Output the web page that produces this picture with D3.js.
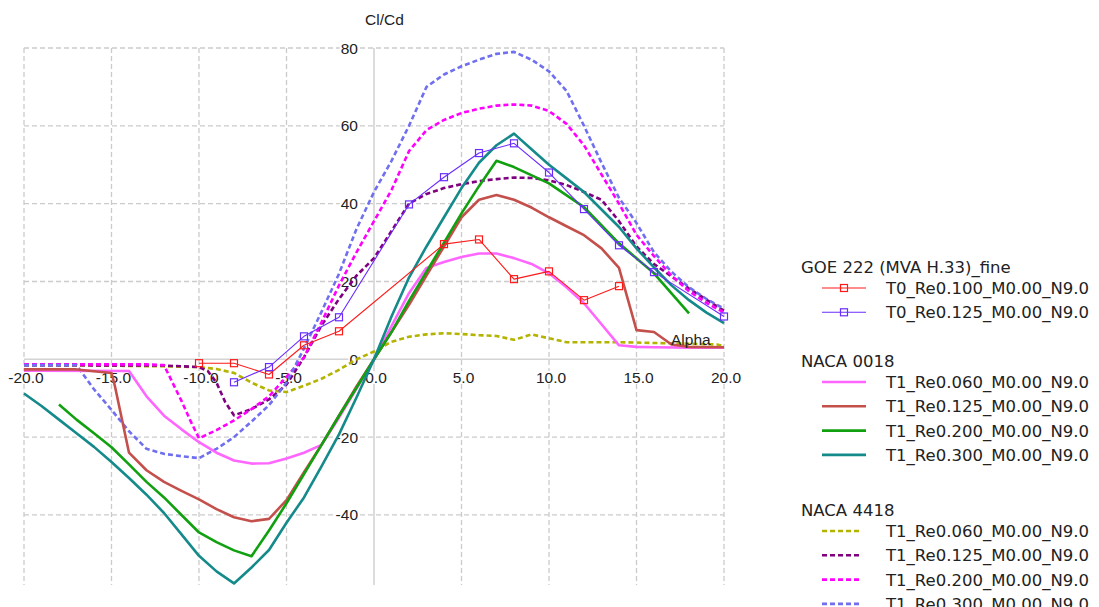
<!DOCTYPE html>
<html><head><meta charset="utf-8">
<script src="https://cdn.jsdelivr.net/npm/d3@7"></script>
<style>body{margin:0;background:#fff}svg{display:block}</style>
</head><body><svg id="c" width="1099" height="607"></svg>
<script>
// ---------- DATA ----------
const xTicks = [-20, -15, -10, -5, 0, 5, 10, 15, 20];
const xTickLabels = ["-20.0", "-15.0", "-10.0", "-5.0", "0.0", "5.0", "10.0", "15.0", "20.0"];
const yTicks = [80, 60, 40, 20, 0, -20, -40];
const yTickLabels = ["80", "60", "40", "20", "0", "-20", "-40"];

const groupNames = ["GOE 222 (MVA H.33)_fine", "NACA 0018", "NACA 4418"];
const goeLabels = ["T0_Re0.100_M0.00_N9.0", "T0_Re0.125_M0.00_N9.0"];
const naca0018Labels = ["T1_Re0.060_M0.00_N9.0", "T1_Re0.125_M0.00_N9.0", "T1_Re0.200_M0.00_N9.0", "T1_Re0.300_M0.00_N9.0"];
const naca4418Labels = ["T1_Re0.060_M0.00_N9.0", "T1_Re0.125_M0.00_N9.0", "T1_Re0.200_M0.00_N9.0", "T1_Re0.300_M0.00_N9.0"];

// GOE 222
const goeRe100Alpha = [-10, -8, -6, -4, -2, 4, 6, 8, 10, 12, 14];
const goeRe100ClCd  = [-1, -1, -3.9, 3.6, 7.2, 29.6, 30.8, 20.6, 22.6, 15.2, 18.8];
const goeRe125Alpha = [-8, -6, -4, -2, 2, 4, 6, 8, 10, 12, 14, 16, 20];
const goeRe125ClCd  = [-5.9, -2, 5.9, 10.8, 39.8, 46.8, 53, 55.5, 48, 38.6, 29.3, 22.4, 11];

// NACA 0018
const n0018Re060Alpha = [-20, -14, -13, -12, -11, -10, -9, -8, -7, -6, -5, -4, -3, -2, -1, 0, 1, 2, 3, 4, 5, 6, 7, 8, 9, 10, 11, 12, 13, 14, 15, 16, 18, 20];
const n0018Re060ClCd  = [-2.9, -3, -9.5, -14.5, -18, -21.3, -24, -26, -26.8, -26.7, -25.5, -24, -22, -15, -7.5, 0, 8.5, 17, 23.5, 25, 26.3, 27.2, 27.2, 26, 24.5, 22.1, 18.5, 14.4, 9, 3.6, 3.2, 3.1, 3, 3];
const n0018Re125Alpha = [-20, -17, -15, -14.8, -14, -13, -12, -11, -10, -9, -8, -7, -6, -5, -4, -3, -2, -1, 0, 1, 2, 3, 4, 5, 6, 7, 8, 9, 10, 11, 12, 13, 14, 15, 16, 17, 18, 20];
const n0018Re125ClCd  = [-2.6, -2.6, -3.5, -7, -24, -28.5, -31.5, -33.8, -36, -38.5, -40.6, -41.6, -41, -36.2, -29, -22, -14.5, -7, 0, 7, 14, 21.5, 29, 36.5, 41, 42.2, 41, 39, 36.5, 34.2, 31.9, 28.5, 23.5, 7.5, 7, 3.8, 3.2, 3.1];
const n0018Re200Alpha = [-18, -17, -16, -15, -14, -13, -12, -11, -10, -9, -8, -7, -6, -5, -4, -3, -2, -1, 0, 1, 2, 3, 4, 5, 6, 7, 8, 10, 12, 14, 16, 18];
const n0018Re200ClCd  = [-11.6, -15.5, -19, -22.6, -27, -31.5, -35.5, -40, -44.5, -47, -49.1, -50.6, -44, -37, -29.5, -22, -14.5, -7.3, 0, 7, 15, 22.5, 30, 37.5, 44.5, 51, 49.4, 45.2, 39.1, 29.8, 22.1, 11.8];
const n0018Re300Alpha = [-20, -19, -18, -17, -16, -15, -14, -13, -12, -11, -10, -9, -8, -7, -6, -5, -4, -3, -2, -1, 0, 1, 2, 3, 4, 5, 6, 7, 8, 9, 10, 11, 12, 13, 14, 15, 16, 17, 18, 19, 20];
const n0018Re300ClCd  = [-8.8, -12, -15.5, -19, -22.5, -26.4, -30.5, -34.8, -39.5, -45, -50.5, -54.5, -57.6, -53.5, -49, -42, -35.5, -27.5, -19.3, -9.8, 0, 11, 21, 29, 36.5, 44, 50.5, 55, 58, 54, 50, 46.5, 43, 38.5, 34, 28.5, 23.6, 19, 15.2, 12, 9.3];

// NACA 4418
const n4418Re060Alpha = [-20, -16, -12, -10, -9, -8, -7, -6, -5, -4, -3, -2, -1, 0, 1, 2, 3, 4, 5, 6, 7, 8, 9, 10, 11, 12, 14, 16, 18, 19.6, 20];
const n4418Re060ClCd  = [-1.5, -1.6, -1.8, -2, -2.5, -3.5, -6, -8, -8.4, -6.8, -5, -2.7, 0, 2, 4.5, 5.8, 6.4, 6.7, 6.5, 6.2, 6, 5, 6.4, 5.4, 4.4, 4.4, 4.4, 4.2, 4, 3.8, 3.4];
const n4418Re125Alpha = [-20, -12, -10, -9.5, -9, -8.5, -8, -7, -6, -5, -4, -3, -2, -1, 0, 1, 2, 3, 4, 5, 6, 7, 8, 9, 10, 11, 12, 13, 14, 15, 16, 17, 18, 19, 20];
const n4418Re125ClCd  = [-1.5, -1.6, -2, -3, -6, -11, -14.4, -12.8, -10.3, -6.5, 0.5, 8.7, 15.5, 21.5, 26, 33, 40, 42.5, 44, 45, 45.8, 46.3, 46.7, 46.6, 46, 44.8, 43, 41, 35.5, 29, 24.5, 21.3, 18.2, 15.3, 12.5];
const n4418Re200Alpha = [-20, -13, -12, -11, -10.5, -10, -9, -8, -7, -6, -5, -4, -3, -2, -1, 0, 1, 2, 3, 4, 5, 6, 7, 8, 9, 10, 11, 12, 13, 14, 15, 16, 17, 18, 19, 20];
const n4418Re200ClCd  = [-1.3, -1.3, -1.5, -10.7, -15.7, -20.3, -18.2, -15.7, -12.8, -9.5, -4.5, 0.5, 9.5, 19, 27.5, 35.5, 43.5, 53.5, 58.9, 61.5, 63.3, 64.4, 65.2, 65.5, 65.2, 63.8, 60.5, 55, 47.5, 40, 32, 26.5, 21.5, 17.5, 14.5, 12];
const n4418Re300Alpha = [-20, -17, -16, -15, -14, -13, -12, -11, -10, -9, -8, -7, -6, -5, -4, -3, -2, -1, 0, 1, 2, 3, 4, 5, 6, 7, 8, 9, 10, 11, 12, 13, 14, 15, 16, 17, 18, 19, 20];
const n4418Re300ClCd  = [-1.5, -1.5, -7.7, -13, -18.5, -23, -24.3, -24.9, -25.4, -23, -20, -16, -11.8, -6, 2.8, 12.2, 22, 33.5, 43, 51, 60, 70, 73.2, 75.3, 77, 78.5, 79, 77, 74, 69, 60, 50.5, 41.5, 35, 27.5, 22.5, 18.5, 15.5, 13];

// ---------- SERIES ----------
const zip = (a, v) => a.map((x, i) => ({x, y: v[i]}));
const series = [
  {g: 2, label: naca4418Labels[0], data: zip(n4418Re060Alpha, n4418Re060ClCd), color: "#b4b400", w: 2.6, dash: "5,3"},
  {g: 2, label: naca4418Labels[1], data: zip(n4418Re125Alpha, n4418Re125ClCd), color: "#800080", w: 2.6, dash: "5,3"},
  {g: 2, label: naca4418Labels[2], data: zip(n4418Re200Alpha, n4418Re200ClCd), color: "#ff00ff", w: 2.6, dash: "5,3"},
  {g: 2, label: naca4418Labels[3], data: zip(n4418Re300Alpha, n4418Re300ClCd), color: "#6f6ff0", w: 2.6, dash: "5,3"},
  {g: 1, label: naca0018Labels[0], data: zip(n0018Re060Alpha, n0018Re060ClCd), color: "#ff66ff", w: 2.6},
  {g: 1, label: naca0018Labels[1], data: zip(n0018Re125Alpha, n0018Re125ClCd), color: "#c4504c", w: 2.6},
  {g: 1, label: naca0018Labels[2], data: zip(n0018Re200Alpha, n0018Re200ClCd), color: "#10a010", w: 2.6},
  {g: 1, label: naca0018Labels[3], data: zip(n0018Re300Alpha, n0018Re300ClCd), color: "#158a8a", w: 2.6},
  {g: 0, label: goeLabels[0], data: zip(goeRe100Alpha, goeRe100ClCd), color: "#ff1a1a", w: 1.1, marker: true},
  {g: 0, label: goeLabels[1], data: zip(goeRe125Alpha, goeRe125ClCd), color: "#6a2cff", w: 1.1, marker: true}
];

// ---------- CHART ----------
const svg = d3.select("#c");
const x = d3.scaleLinear().domain([-20, 20]).range([24, 724]);
const y = d3.scaleLinear().domain([-58, 80]).range([585, 48]);
const tickFont = "'Liberation Sans', Arial, sans-serif";
const legFont = "'DejaVu Sans', sans-serif";

const grid = svg.append("g");
xTicks.filter(t => t !== 0).forEach(t => {
  grid.append("line").attr("x1", x(t)).attr("x2", x(t)).attr("y1", y(80)).attr("y2", 585)
    .attr("stroke", "#cbcbcb").attr("stroke-width", 1.3).attr("stroke-dasharray", "5,3");
});
yTicks.filter(t => t !== 0).forEach(t => {
  grid.append("line").attr("x1", x(-20)).attr("x2", x(20)).attr("y1", y(t)).attr("y2", y(t))
    .attr("stroke", "#cbcbcb").attr("stroke-width", 1.3).attr("stroke-dasharray", "5,3");
});
// axes
grid.append("line").attr("x1", x(0)).attr("x2", x(0)).attr("y1", y(80)).attr("y2", 585)
  .attr("stroke", "#d4d4d4").attr("stroke-width", 1.6);
grid.append("line").attr("x1", x(-20)).attr("x2", x(20)).attr("y1", y(0)).attr("y2", y(0))
  .attr("stroke", "#d4d4d4").attr("stroke-width", 1.6);

// tick labels (with white backing)
const lab = svg.append("g");
function backedText(g, tx, ty, txt, anchor) {
  const t = g.append("text").attr("x", tx).attr("y", ty).attr("text-anchor", anchor)
    .attr("font-family", tickFont).attr("font-size", 15.5).attr("fill", "#222").text(txt);
  const b = t.node().getBBox();
  g.insert("rect", () => t.node()).attr("x", b.x - 1).attr("y", b.y + 2).attr("width", b.width + 2)
    .attr("height", b.height - 4).attr("fill", "#fff");
}
yTicks.forEach((t, i) => backedText(lab, 358, y(t) + 5.5, yTickLabels[i], "end"));
xTicks.forEach((t, i) => backedText(lab, x(t) + 2, 383, xTickLabels[i], "middle"));

// series lines
const line = d3.line().x(d => x(d.x)).y(d => y(d.y));
const plot = svg.append("g");
series.forEach(s => {
  plot.append("path").datum(s.data).attr("d", line).attr("fill", "none")
    .attr("stroke", s.color).attr("stroke-width", s.w)
    .attr("stroke-dasharray", s.dash || null).attr("stroke-linejoin", "round");
  if (s.marker) {
    plot.selectAll(null).data(s.data).enter().append("rect")
      .attr("x", d => x(d.x) - 3.5).attr("y", d => y(d.y) - 3.5)
      .attr("width", 7).attr("height", 7).attr("fill", "#fff").attr("fill-opacity", 0)
      .attr("stroke", s.color).attr("stroke-width", 1.2);
  }
});

// axis titles
svg.append("text").attr("x", 365).attr("y", 25).attr("font-family", tickFont).attr("font-size", 15.5)
  .attr("fill", "#222").text("Cl/Cd");
svg.append("text").attr("x", 671).attr("y", 345).attr("font-family", tickFont).attr("font-size", 15.5)
  .attr("fill", "#222").text("Alpha");

// legend
const leg = svg.append("g");
const headerY = [267, 361, 510];
groupNames.forEach((gname, gi) => {
  leg.append("text").attr("x", 801).attr("y", headerY[gi] + 6).attr("font-family", legFont)
    .attr("font-size", 16.5).attr("fill", "#222").text(gname);
  series.filter(s => s.g === gi).forEach((s, i) => {
    const ly = headerY[gi] + 21 + i * 24.3;
    const x2 = s.dash ? 860 : 866;
    leg.append("line").attr("x1", 822).attr("x2", x2).attr("y1", ly).attr("y2", ly)
      .attr("stroke", s.color).attr("stroke-width", s.w).attr("stroke-dasharray", s.dash || null);
    if (s.marker) {
      leg.append("rect").attr("x", 844 - 3.5).attr("y", ly - 3.5).attr("width", 7).attr("height", 7)
        .attr("fill", "none").attr("stroke", s.color).attr("stroke-width", 1.2);
    }
    leg.append("text").attr("x", 886).attr("y", ly + 6).attr("font-family", legFont)
      .attr("font-size", 16.5).attr("fill", "#222").text(s.label);
  });
});
</script></body></html>
